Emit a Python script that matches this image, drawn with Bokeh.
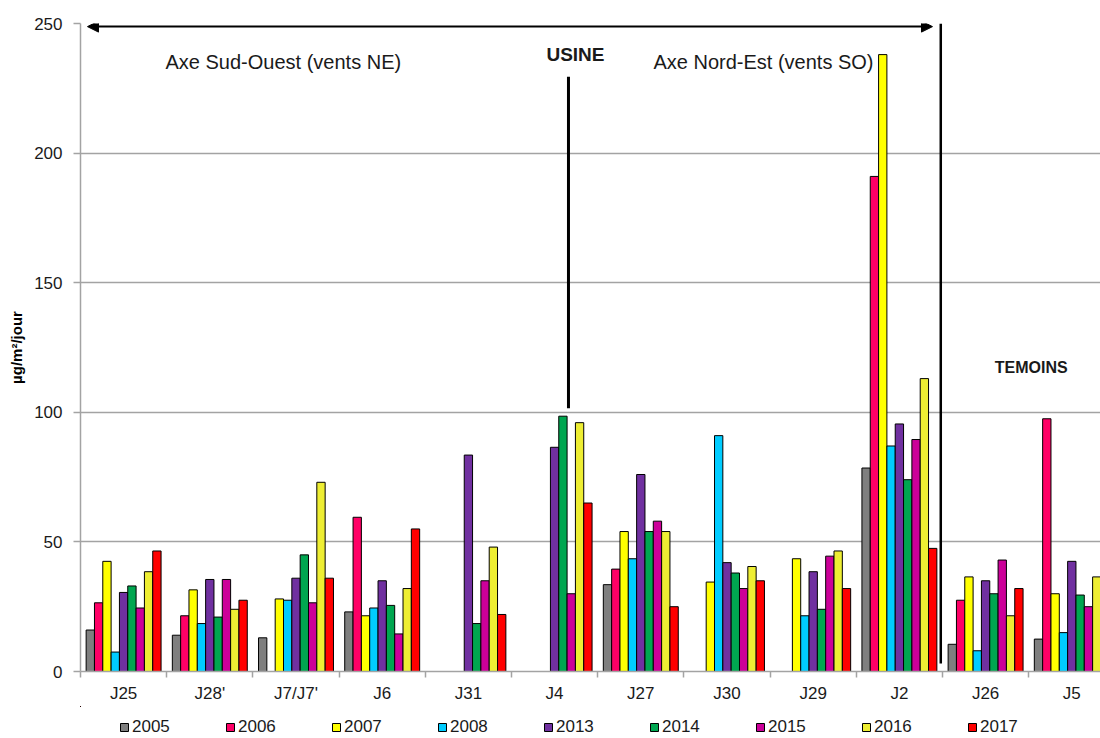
from bokeh.plotting import figure
from bokeh.layouts import column
from bokeh.models import (Range1d, FixedTicker, Legend, LegendItem, Label, Arrow,
                          NormalHead, ColumnDataSource)
from bokeh.embed import file_html
from bokeh.resources import INLINE

# ---- data ----
categories = ["J25", "J28'", "J7/J7'", "J6", "J31", "J4", "J27", "J30", "J29", "J2", "J26", "J5"]
years = ["2005", "2006", "2007", "2008", "2013", "2014", "2015", "2016", "2017"]
v2005 = [16, 14, 13, 23, None, None, 33.5, None, None, 78.5, 10.5, 12.5]
v2006 = [26.5, 21.5, None, 59.5, None, None, 39.5, None, None, 191, 27.5, 97.5]
v2007 = [42.5, 31.5, 28, 21.5, None, None, 54, 34.5, 43.5, 238, 36.5, 30]
v2008 = [7.5, 18.5, 27.5, 24.5, None, None, 43.5, 91, 21.5, 87, 8, 15]
v2013 = [30.5, 35.5, 36, 35, 83.5, 86.5, 76, 42, 38.5, 95.5, 35, 42.5]
v2014 = [33, 21, 45, 25.5, 18.5, 98.5, 54, 38, 24, 74, 30, 29.5]
v2015 = [24.5, 35.5, 26.5, 14.5, 35, 30, 58, 32, 44.5, 89.5, 43, 25]
v2016 = [38.5, 24, 73, 32, 48, 96, 54, 40.5, 46.5, 113, 21.5, 36.5]
v2017 = [46.5, 27.5, 36, 55, 22, 65, 25, 35, 32, 47.5, 32, None]
series = [v2005, v2006, v2007, v2008, v2013, v2014, v2015, v2016, v2017]
colors = ["#7F7F7F", "#FF0066", "#FFFF00", "#00CCFF", "#7030A0", "#00A650",
          "#CC0099", "#EEEE33", "#FF0000"]
y_ticks = [0, 50, 100, 150, 200, 250]

FONT = "Liberation Sans"
TXT = "#1a1a1a"
GRID = "#A3A3A3"

p = figure(width=1100, height=706, output_backend="svg", toolbar_location=None,
           x_range=Range1d(0, 11.833), y_range=Range1d(0, 250),
           min_border_left=80, min_border_right=0, min_border_top=23,
           min_border_bottom=35)
p.outline_line_color = None
p.background_fill_color = "white"
p.border_fill_color = "white"
p.xgrid.grid_line_color = None
p.ygrid.ticker = FixedTicker(ticks=y_ticks)
p.ygrid.grid_line_color = GRID
p.ygrid.grid_line_width = 1.5

# legend strip below the chart (its frame is aligned with the chart's frame);
# its ranges lie far from the data, so the bars it holds stay out of view and
# only feed the legend swatches
lf = figure(width=1100, height=32, output_backend="svg", toolbar_location=None,
            x_range=Range1d(1000, 1011.833), y_range=Range1d(-1064, -1032),
            min_border=0, x_axis_type=None, y_axis_type=None)
lf.outline_line_color = None
lf.grid.grid_line_color = None

n = len(years)
bw = 0.0966
items = []
for i, (yr, vals, col) in enumerate(zip(years, series, colors)):
    xs, tops = [], []
    for j, v in enumerate(vals):
        if v is not None:
            xs.append(j + 0.5 + (i - (n - 1) / 2) * bw)
            tops.append(v)
    src = ColumnDataSource(dict(x=xs, top=tops))
    p.vbar(x="x", top="top", width=bw, source=src, fill_color=col,
           line_color="black", line_width=1)
    r = lf.vbar(x="x", top="top", width=bw, source=src, fill_color=col,
                line_color="black", line_width=1)
    items.append(LegendItem(label=yr, renderers=[r]))

# x axis
centers = [j + 0.5 for j in range(len(categories))]
bounds = [j for j in range(len(categories) + 1)]
xa = p.xaxis[0]
xa.ticker = FixedTicker(ticks=centers, minor_ticks=bounds)
xa.major_label_overrides = {c: name for c, name in zip(centers, categories)}
xa.major_tick_out = 0
xa.major_tick_in = 0
xa.minor_tick_out = 6
xa.minor_tick_in = 0
xa.minor_tick_line_color = GRID
xa.minor_tick_line_width = 1.5
xa.axis_line_color = GRID
xa.axis_line_width = 1.5
xa.major_label_text_font = FONT
xa.major_label_text_font_size = "17px"
xa.major_label_text_color = TXT
xa.major_label_standoff = 6

# y axis
ya = p.yaxis[0]
ya.ticker = FixedTicker(ticks=y_ticks)
ya.major_tick_out = 7
ya.major_tick_in = 0
ya.minor_tick_line_color = None
ya.major_tick_line_color = GRID
ya.major_tick_line_width = 1.5
ya.axis_line_color = GRID
ya.axis_line_width = 1.5
ya.major_label_text_font = FONT
ya.major_label_text_font_size = "17px"
ya.major_label_text_color = TXT
ya.major_label_standoff = 11
ya.axis_label = "µg/m²/jour"
ya.axis_label_text_font = FONT
ya.axis_label_text_font_size = "15px"
ya.axis_label_text_font_style = "bold"
ya.axis_label_text_color = "black"
ya.axis_label_standoff = 6

# annotations
p.add_layout(Arrow(x_start=0.081, y_start=248.8, x_end=9.884, y_end=248.8,
                   line_width=2, line_color="black",
                   start=NormalHead(size=11, fill_color="black", line_color="black"),
                   end=NormalHead(size=11, fill_color="black", line_color="black")))
p.add_layout(Arrow(x_start=9.98, y_start=250, x_end=9.98, y_end=3.1,
                   line_width=2.5, line_color="black", end=None))
p.add_layout(Arrow(x_start=5.661, y_start=229.5, x_end=5.661, y_end=101.6,
                   line_width=3, line_color="black", end=None))

p.add_layout(Label(x=0.986, y=235.3, text="Axe Sud-Ouest (vents NE)",
                   text_font=FONT, text_font_size="20px", text_color=TXT,
                   text_baseline="middle", text_align="left"))
p.add_layout(Label(x=6.647, y=235.3, text="Axe Nord-Est (vents SO)",
                   text_font=FONT, text_font_size="20px", text_color=TXT,
                   text_baseline="middle", text_align="left"))
p.add_layout(Label(x=5.742, y=238.0, text="USINE",
                   text_font=FONT, text_font_size="19px", text_font_style="bold",
                   text_color=TXT, text_baseline="middle", text_align="center"))
p.add_layout(Label(x=11.03, y=117.3, text="TEMOINS",
                   text_font=FONT, text_font_size="16px", text_font_style="bold",
                   text_color=TXT, text_baseline="middle", text_align="center"))

legend = Legend(items=items, orientation="horizontal", location=(39, 1),
                glyph_width=10, glyph_height=10, label_standoff=3, label_width=93,
                label_height=20, spacing=0, padding=0, margin=0,
                border_line_color=None, background_fill_alpha=0,
                label_text_font=FONT, label_text_font_size="17px",
                label_text_color=TXT)
lf.add_layout(legend)

layout = column(p, lf, spacing=0)
open("out.html", "w").write(file_html(layout, INLINE))
